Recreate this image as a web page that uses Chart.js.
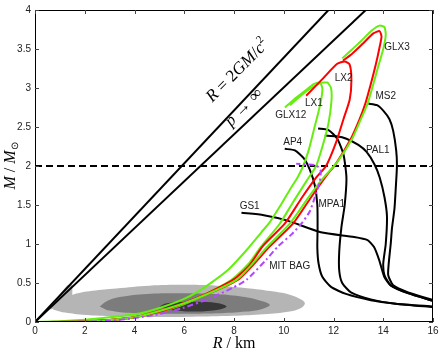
<!DOCTYPE html>
<html>
<head>
<meta charset="utf-8">
<script src="https://cdn.jsdelivr.net/npm/chart.js@4.4.0/dist/chart.umd.min.js"></script>
<style>
  html, body { margin: 0; padding: 0; background: #fff; }
  #wrap { width: 442px; height: 354px; }
</style>
</head>
<body>
<div id="wrap"><canvas id="chart" width="442" height="354"></canvas></div>
<script>
// radius R in km, mass M in solar masses
const xTickValues = [0, 2, 4, 6, 8, 10, 12, 14, 16];
const yTickValues = [0, 0.5, 1, 1.5, 2, 2.5, 3, 3.5, 4];

const schwarzschild = [[0, 0], [11.8, 4]];
const buchdahl = [[0, 0], [13.3, 4]];
const twoSolar = [[0, 2], [16, 2]];

// shaded probability regions
const lightRegion = [[0.72, 0.16], [1.0, 0.27], [1.52, 0.35], [2.3, 0.4], [3.27, 0.43], [4.6, 0.465], [5.95, 0.476], [7.3, 0.465], [8.63, 0.43], [9.6, 0.39], [10.24, 0.35], [10.7, 0.29], [10.85, 0.24], [10.7, 0.18], [10.24, 0.135], [9.2, 0.1], [7.96, 0.08], [6.3, 0.068], [4.6, 0.064], [3.0, 0.075], [1.92, 0.093], [1.1, 0.125]];
const lightSliver = [[0.6, 0.16], [1.0, 0.36], [1.3, 0.47], [1.5, 0.48], [1.5, 0.35], [1.2, 0.2]];
const midRegion = [[2.6, 0.2], [2.9, 0.27], [3.4, 0.32], [4.5, 0.36], [5.95, 0.37], [7.2, 0.36], [8.23, 0.33], [9.0, 0.28], [9.44, 0.22], [9.1, 0.165], [8.5, 0.135], [7.3, 0.112], [5.95, 0.106], [4.6, 0.11], [3.53, 0.123], [2.9, 0.15]];
const darkRegion = [[5.0, 0.2], [5.3, 0.24], [6.35, 0.26], [7.3, 0.245], [7.7, 0.2], [7.3, 0.155], [6.35, 0.135], [5.4, 0.155]];

// strange star curves
const glx1 = [[0, 0], [1, 0.01], [2, 0.03], [3, 0.06], [4.2, 0.11], [5.1, 0.19], [5.95, 0.29], [6.6, 0.4], [7.2, 0.53], [7.8, 0.68], [8.5, 0.92], [9.1, 1.15], [9.44, 1.28], [9.84, 1.48], [10.25, 1.7], [10.55, 1.85], [10.78, 2.0], [11.0, 2.2], [11.2, 2.45], [11.4, 2.7], [11.52, 2.88], [11.55, 3.0], [11.45, 3.07], [11.2, 3.05], [10.8, 2.95], [10.4, 2.85], [10.05, 2.75]];
const glx2 = [[0, 0], [2, 0.01], [3, 0.03], [4, 0.065], [5, 0.13], [6, 0.23], [7, 0.38], [7.9, 0.54], [8.6, 0.75], [9.05, 0.95], [9.84, 1.26], [10.4, 1.55], [10.9, 1.8], [11.3, 2.0], [11.6, 2.3], [11.8, 2.55], [11.92, 2.84], [11.9, 3.0], [11.75, 3.07], [11.45, 3.06], [11.0, 2.98], [10.6, 2.88], [10.25, 2.78]];
const lx1 = [[0, 0], [2, 0.005], [3, 0.025], [4, 0.06], [5, 0.13], [6, 0.24], [7, 0.38], [7.96, 0.54], [8.6, 0.72], [9.15, 0.97], [10.04, 1.26], [10.7, 1.58], [11.3, 1.85], [11.7, 2.0], [12.1, 2.3], [12.4, 2.6], [12.65, 2.85], [12.72, 3.1], [12.65, 3.3], [12.45, 3.34], [12.15, 3.31], [11.6, 3.13], [10.9, 2.9]];
const glx3 = [[0, 0], [2, 0.005], [4, 0.06], [6, 0.24], [8.1, 0.54], [9.35, 0.97], [10.24, 1.26], [11.0, 1.6], [11.6, 1.85], [12.15, 2.05], [12.75, 2.35], [13.1, 2.6], [13.37, 2.8], [13.6, 3.05], [13.82, 3.3], [14.0, 3.5], [14.1, 3.68], [14.05, 3.78], [13.85, 3.8], [13.55, 3.74], [13.1, 3.6], [12.7, 3.48], [12.35, 3.38]];
const lx2 = [[0, 0], [2, 0.005], [4, 0.06], [6, 0.245], [8.15, 0.54], [9.44, 0.97], [10.37, 1.26], [11.1, 1.6], [11.7, 1.87], [12.1, 2.03], [12.7, 2.35], [13.05, 2.6], [13.28, 2.8], [13.5, 3.05], [13.7, 3.3], [13.85, 3.52], [13.93, 3.66], [13.85, 3.73], [13.6, 3.7], [13.15, 3.56], [12.75, 3.44], [12.38, 3.35]];
const mitBag = [[0, 0], [2, 0.003], [3, 0.015], [4, 0.05], [5, 0.1], [5.95, 0.18], [7, 0.3], [7.96, 0.44], [8.5, 0.54], [9.3, 0.8], [9.77, 0.97], [10.3, 1.12], [10.71, 1.26], [11.05, 1.42], [11.25, 1.6], [11.45, 1.8], [11.48, 1.95], [11.3, 2.01], [10.9, 2.02], [10.5, 2.03]];

// neutron star curves
const ap4 = [[10.04, 2.22], [10.45, 2.2], [10.8, 2.1], [11.05, 1.95], [11.25, 1.75], [11.35, 1.5], [11.36, 1.2], [11.35, 0.95], [11.4, 0.75], [11.55, 0.58], [11.9, 0.45], [12.5, 0.36], [13.5, 0.28], [14.5, 0.235], [16, 0.19]];
const mpa1 = [[11.38, 2.48], [11.8, 2.46], [12.15, 2.35], [12.4, 2.15], [12.52, 1.85], [12.45, 1.5], [12.32, 1.22], [12.23, 0.9], [12.23, 0.66], [12.35, 0.5], [12.7, 0.38], [13.5, 0.29], [14.5, 0.235], [16, 0.2]];
const pal1 = [[11.65, 2.39], [12.1, 2.38], [12.52, 2.35], [13.0, 2.27], [13.33, 2.18], [13.65, 2.02], [13.86, 1.85], [14.05, 1.6], [14.15, 1.35], [14.1, 1.0], [14.0, 0.75], [14.05, 0.6], [14.3, 0.47], [15.0, 0.37], [16, 0.27]];
const ms2 = [[13.4, 2.8], [13.75, 2.78], [14.0, 2.71], [14.25, 2.6], [14.4, 2.45], [14.52, 2.2], [14.55, 2.0], [14.5, 1.7], [14.45, 1.45], [14.35, 1.2], [14.3, 1.0], [14.22, 0.75], [14.2, 0.6], [14.4, 0.47], [15.0, 0.38], [16, 0.28]];
const gs1 = [[8.3, 1.4], [9.2, 1.37], [10.15, 1.3], [11.49, 1.15], [12.83, 1.09], [13.37, 1.05], [13.63, 0.96], [13.84, 0.79], [14.04, 0.58], [14.3, 0.47], [14.98, 0.37], [16, 0.27]];

// curve names and where they sit (R, M)
const curveNames = ["GLX12", "LX1", "LX2", "GLX3", "MS2", "PAL1", "AP4", "GS1", "MPA1", "MIT BAG"];
const curveNameSpots = [[10.28, 2.65], [11.21, 2.8], [12.41, 3.13], [14.55, 3.52], [14.1, 2.9], [13.78, 2.2], [10.36, 2.3], [8.63, 1.49], [11.93, 1.51], [10.24, 0.71]];

const GREEN = "#66ee11";
const RED = "#ff0000";
const PURPLE = "#b347ff";

const pts = (arr) => arr.map(([x, y]) => ({ x: x, y: y }));

const curve = (data, color, extra) =>
  Object.assign(
    {
      data: pts(data),
      showLine: true,
      borderColor: color,
      borderWidth: 2,
      pointRadius: 0,
      tension: 0.2,
      fill: false,
      order: 1,
    },
    extra || {}
  );

const region = (data, color, tension) => ({
  data: pts(data),
  showLine: true,
  borderWidth: 0,
  borderColor: color,
  backgroundColor: color,
  pointRadius: 0,
  tension: tension,
  fill: "shape",
  order: 9,
});

// text made of runs, some italic, sub or superscript
function drawRuns(ctx, runs, cx, cy, size, angle) {
  const fontOf = (r) =>
    (r.it ? "italic " : "") +
    Math.round(r.sub || r.sup ? size * 0.65 : size) +
    'px "Liberation Serif", serif';
  let total = 0;
  runs.forEach((r) => {
    ctx.font = fontOf(r);
    r.w = ctx.measureText(r.t).width;
    total += r.w;
  });
  ctx.save();
  ctx.translate(cx, cy);
  ctx.rotate(angle);
  ctx.textAlign = "left";
  ctx.textBaseline = "middle";
  let x0 = -total / 2;
  runs.forEach((r) => {
    ctx.font = fontOf(r);
    const dy = r.sub ? size * 0.3 : r.sup ? -size * 0.35 : 0;
    ctx.fillText(r.t, x0, dy);
    x0 += r.w;
  });
  ctx.restore();
}

const decor = {
  id: "decor",
  afterDatasetsDraw(chart) {
    const ctx = chart.ctx;
    const a = chart.chartArea;
    const x = chart.scales.x;
    const y = chart.scales.y;
    ctx.save();

    // frame
    ctx.strokeStyle = "#000";
    ctx.lineWidth = 1;
    ctx.strokeRect(a.left + 0.5, a.top + 0.5, a.right - a.left - 1, a.bottom - a.top - 1);

    // inward ticks on every side
    ctx.strokeStyle = "#444";
    ctx.beginPath();
    xTickValues.forEach((v) => {
      const px = Math.round(x.getPixelForValue(v)) + 0.5;
      ctx.moveTo(px, a.bottom);
      ctx.lineTo(px, a.bottom - 4);
      ctx.moveTo(px, a.top);
      ctx.lineTo(px, a.top + 4);
    });
    yTickValues.forEach((v) => {
      const py = Math.round(y.getPixelForValue(v)) + 0.5;
      ctx.moveTo(a.left, py);
      ctx.lineTo(a.left + 4, py);
      ctx.moveTo(a.right, py);
      ctx.lineTo(a.right - 4, py);
    });
    ctx.stroke();

    // curve names
    ctx.fillStyle = "#222";
    ctx.font = '10px "Liberation Sans", Arial, sans-serif';
    ctx.textAlign = "center";
    ctx.textBaseline = "middle";
    curveNames.forEach((name, i) => {
      const [r, m] = curveNameSpots[i];
      ctx.fillText(name, x.getPixelForValue(r), y.getPixelForValue(m));
    });

    // limits written along the diagonal lines
    ctx.fillStyle = "#000";
    drawRuns(
      ctx,
      [{ t: "R", it: true }, { t: " = 2" }, { t: "GM", it: true }, { t: "/" }, { t: "c", it: true }, { t: "2", sup: true }],
      x.getPixelForValue(8.15),
      y.getPixelForValue(3.22),
      17,
      -0.79
    );
    drawRuns(
      ctx,
      [{ t: "p", it: true }, { t: " → ∞" }],
      x.getPixelForValue(8.4),
      y.getPixelForValue(2.75),
      17,
      -0.79
    );

    // axis titles
    drawRuns(ctx, [{ t: "R", it: true }, { t: " / km" }], (a.left + a.right) / 2, 344, 16, 0);
    drawRuns(
      ctx,
      [{ t: "M", it: true }, { t: " / " }, { t: "M", it: true }, { t: "⊙", sub: true }],
      11,
      (a.top + a.bottom) / 2,
      16,
      -Math.PI / 2
    );

    ctx.restore();
  },
};

const tickFont = { family: '"Liberation Sans", Arial, sans-serif', size: 10 };

new Chart(document.getElementById("chart"), {
  type: "scatter",
  data: {
    datasets: [
      curve(mitBag, PURPLE, { borderDash: [6, 3, 2, 3] }),
      curve(glx3, GREEN),
      curve(lx2, RED),
      curve(lx1, RED),
      curve(glx2, GREEN),
      curve(glx1, GREEN),
      curve(gs1, "#000", { order: 2 }),
      curve(ms2, "#000", { order: 2 }),
      curve(pal1, "#000", { order: 2 }),
      curve(mpa1, "#000", { order: 2 }),
      curve(ap4, "#000", { order: 2 }),
      curve(twoSolar, "#000", { borderDash: [7, 4], tension: 0, order: 3 }),
      curve(schwarzschild, "#000", { tension: 0, order: 3 }),
      curve(buchdahl, "#000", { tension: 0, order: 3 }),
      region(darkRegion, "#383838", 0.4),
      region(midRegion, "#7c7c7c", 0.4),
      region(lightRegion, "#b5b5b5", 0.4),
      region(lightSliver, "#b5b5b5", 0),
    ],
  },
  options: {
    responsive: false,
    animation: false,
    devicePixelRatio: 1,
    layout: { padding: { top: 9, right: 9, left: 0, bottom: 0 } },
    plugins: {
      legend: { display: false },
      tooltip: { enabled: false },
    },
    scales: {
      x: {
        type: "linear",
        min: 0,
        max: 16,
        afterFit: (s) => {
          s.height = 32;
        },
        afterBuildTicks: (s) => {
          s.ticks = xTickValues.map((v) => ({ value: v }));
        },
        ticks: {
          font: tickFont,
          color: "#222",
          padding: 3,
          maxRotation: 0,
          callback: (v) => String(v),
        },
        grid: { display: false, drawTicks: false },
        border: { display: false },
      },
      y: {
        type: "linear",
        min: 0,
        max: 4,
        afterFit: (s) => {
          s.width = 35;
        },
        afterBuildTicks: (s) => {
          s.ticks = yTickValues.map((v) => ({ value: v }));
        },
        ticks: { font: tickFont, color: "#222", padding: 4, callback: (v) => String(v) },
        grid: { display: false, drawTicks: false },
        border: { display: false },
      },
    },
  },
  plugins: [decor],
});
</script>
</body>
</html>
